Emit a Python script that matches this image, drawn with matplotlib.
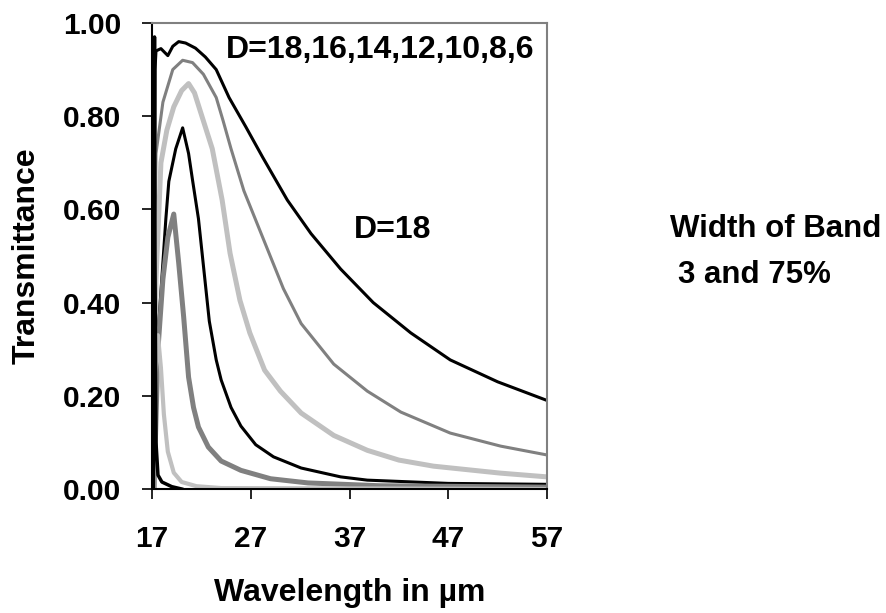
import matplotlib
matplotlib.use("Agg")
import matplotlib.pyplot as plt

plt.rcParams["font.family"] = ["Liberation Sans", "DejaVu Sans"]
plt.rcParams["font.weight"] = "bold"

# transmittance curves read per band depth D (wavelength in um)
d18_x = [17.2, 17.3, 17.4, 17.9, 18.6, 19.1, 19.7, 20.4, 21.4, 22.4, 23.5, 24.8, 26.5, 28.2,
         30.7, 33.1, 36.1, 39.4, 43.2, 47.2, 52.0, 57.0]
d18_y = [0.02, 0.90, 0.94, 0.945, 0.93, 0.95, 0.96, 0.957, 0.946, 0.927, 0.90, 0.84, 0.777, 0.712,
         0.62, 0.548, 0.472, 0.40, 0.335, 0.277, 0.23, 0.19]

d16_x = [17.2, 17.3, 17.4, 18.1, 19.1, 20.1, 21.1, 22.2, 23.5, 24.2, 25.0, 26.3, 28.3, 30.3,
         32.1, 35.4, 38.8, 42.2, 47.2, 52.3, 57.0]
d16_y = [0.0, 0.55, 0.72, 0.83, 0.90, 0.92, 0.915, 0.89, 0.84, 0.79, 0.73, 0.64, 0.535, 0.43,
         0.355, 0.268, 0.21, 0.165, 0.12, 0.092, 0.073]

d14_x = [17.2, 17.4, 17.9, 18.5, 19.2, 20.0, 20.7, 21.3, 21.9, 23.1, 24.1, 24.9, 25.9, 26.9,
         28.4, 30.0, 32.1, 35.4, 38.8, 42.0, 45.5, 52.3, 57.0]
d14_y = [0.0, 0.45, 0.70, 0.77, 0.82, 0.855, 0.87, 0.85, 0.81, 0.73, 0.62, 0.506, 0.405, 0.335,
         0.255, 0.21, 0.163, 0.115, 0.083, 0.062, 0.049, 0.034, 0.026]

d12_x = [17.2, 17.4, 17.7, 18.4, 18.7, 19.4, 20.1, 20.7, 21.1, 21.7, 22.5, 22.8, 23.5, 24.0,
         25.0, 26.0, 27.5, 29.3, 32.1, 36.1, 38.8, 47.0, 57.0]
d12_y = [0.0, 0.15, 0.36, 0.58, 0.66, 0.73, 0.775, 0.72, 0.663, 0.58, 0.42, 0.36, 0.277, 0.234,
         0.175, 0.135, 0.095, 0.069, 0.045, 0.026, 0.019, 0.012, 0.01]

d10_x = [17.2, 17.4, 17.6, 18.1, 18.6, 19.2, 19.7, 20.2, 20.7, 21.2, 21.7, 22.7, 24.0, 26.0,
         29.0, 32.8, 40.0, 57.0]
d10_y = [0.0, 0.15, 0.30, 0.45, 0.54, 0.59, 0.485, 0.37, 0.24, 0.175, 0.133, 0.09, 0.06, 0.04,
         0.022, 0.013, 0.007, 0.004]

d8_x = [17.2, 17.35, 17.6, 17.9, 18.2, 18.6, 19.2, 20.0, 21.5, 24.0, 57.0]
d8_y = [0.0, 0.25, 0.33, 0.26, 0.16, 0.08, 0.035, 0.015, 0.006, 0.002, 0.0]

d6_x = [17.15, 17.2, 17.25, 17.3, 17.4, 17.6, 18.0, 19.0, 20.0]
d6_y = [0.0, 0.55, 0.97, 0.5, 0.1, 0.03, 0.015, 0.005, 0.0]

x_ticks = [17, 27, 37, 47, 57]
y_ticks = [0.0, 0.2, 0.4, 0.6, 0.8, 1.0]

BLACK, GRAY, LIGHT = "#000000", "#808080", "#c0c0c0"

fig = plt.figure(figsize=(8.86, 6.13), dpi=100)
ax = fig.add_axes([0.1716, 0.2023, 0.4458, 0.7602])

ax.plot(d18_x, d18_y, color=BLACK, lw=2.2)
ax.plot(d16_x, d16_y, color=GRAY, lw=2.2)
ax.plot(d14_x, d14_y, color=LIGHT, lw=3.6)
ax.plot(d12_x, d12_y, color=BLACK, lw=2.2)
ax.plot(d10_x, d10_y, color=GRAY, lw=3.6)
ax.plot(d8_x, d8_y, color=LIGHT, lw=3.0)
ax.plot(d6_x, d6_y, color=BLACK, lw=2.5)

ax.set_xlim(17, 57)
ax.set_ylim(0, 1)
ax.set_xticks(x_ticks)
ax.set_yticks(y_ticks)
ax.set_yticklabels([f"{v:.2f}" for v in y_ticks])
ax.tick_params(axis="both", direction="out", length=7, width=1.2, labelsize=21.5, color="black")
ax.tick_params(axis="x", pad=19)
ax.tick_params(axis="y", pad=15)

for side in ("left", "bottom"):
    ax.spines[side].set_color("black")
    ax.spines[side].set_linewidth(1.5)
for side in ("top", "right"):
    ax.spines[side].set_color(GRAY)
    ax.spines[side].set_linewidth(1.5)

ax.set_xlabel("Wavelength in µm", fontsize=23, fontweight="bold")
ax.xaxis.set_label_coords(0.5, -0.19)
ax.set_ylabel("Transmittance", fontsize=23, fontweight="bold")
ax.yaxis.set_label_coords(-0.28, 0.5)

ax.text(24.5, 0.942, "D=18,16,14,12,10,8,6", fontsize=23, fontweight="bold", va="center")
ax.text(37.4, 0.556, "D=18", fontsize=23, fontweight="bold", va="center")

fig.text(0.756, 0.626, "Width of Band", fontsize=22.5, fontweight="bold", va="center")
fig.text(0.765, 0.551, "3 and 75%", fontsize=22.5, fontweight="bold", va="center")

fig.savefig("out.png", dpi=100)
